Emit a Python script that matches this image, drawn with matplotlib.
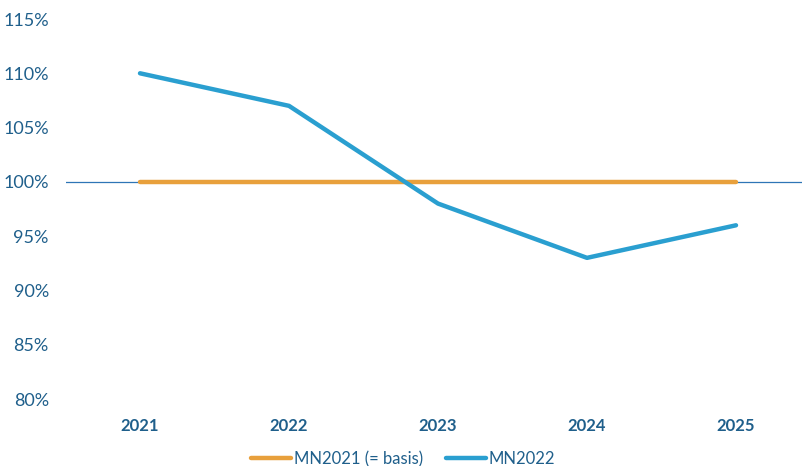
import matplotlib.pyplot as plt
from matplotlib.ticker import FuncFormatter

plt.rcParams['font.family'] = ['Lato', 'DejaVu Sans']

years = ['2021', '2022', '2023', '2024', '2025']
mn2021 = [100, 100, 100, 100, 100]
mn2022 = [110, 107, 98, 93, 96]
y_ticks = [80, 85, 90, 95, 100, 105, 110, 115]

text_col = '#1f5f8b'
orange = '#e8a03c'
blue = '#2a9fd0'

fig = plt.figure(figsize=(8.03, 4.66), dpi=100)
ax = fig.add_axes([65.5 / 803, 67 / 466, 745 / 803, 380 / 466])

x = range(len(years))
ax.plot(x, mn2021, color=orange, lw=3.2, label='MN2021 (= basis)', solid_capstyle='round')
ax.plot(x, mn2022, color=blue, lw=3.2, label='MN2022', solid_capstyle='round')
ax.axhline(100, color='#2e75b6', lw=0.9, zorder=1)

ax.set_xlim(-0.5, 4.5)
ax.set_ylim(80, 115)
ax.set_yticks(y_ticks)
ax.yaxis.set_major_formatter(FuncFormatter(lambda v, p: f'{v:.0f}%'))
ax.set_xticks(list(x))
ax.set_xticklabels(years, fontweight='bold')

for s in ax.spines.values():
    s.set_visible(False)
ax.tick_params(axis='both', length=0, colors=text_col, labelsize=12)
ax.tick_params(axis='y', labelsize=13, pad=12)
ax.tick_params(axis='x', pad=14)

leg = ax.legend(loc='lower center', bbox_to_anchor=(403 / 803, -0.01), bbox_transform=fig.transFigure,
                ncol=2, frameon=False, fontsize=12, handlelength=2.4, columnspacing=1.4,
                handletextpad=0.15, borderaxespad=0, borderpad=0.2)
for t in leg.get_texts():
    t.set_color(text_col)

fig.savefig('out.png', dpi=100)
